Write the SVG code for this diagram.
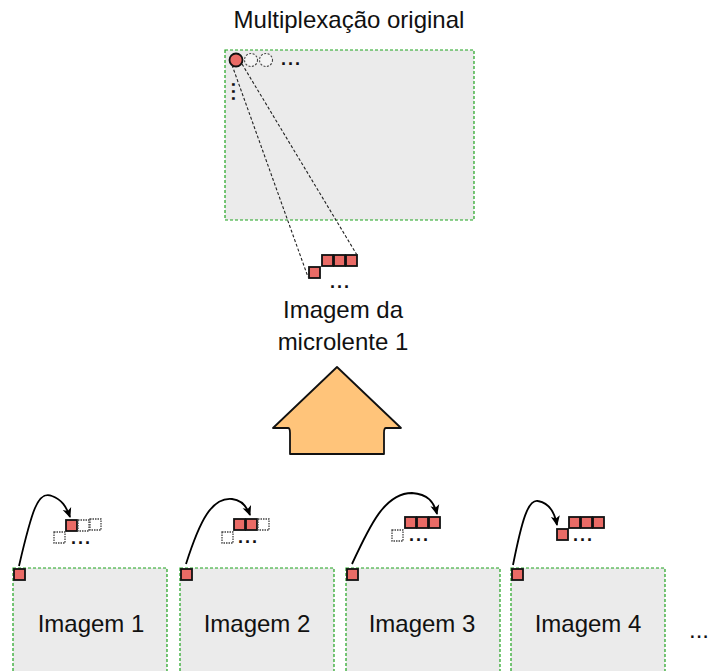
<svg xmlns="http://www.w3.org/2000/svg" width="711" height="671" viewBox="0 0 711 671">
<style>
.box{fill:#EBEBEB;stroke:#1FA31F;stroke-width:1.2;stroke-dasharray:3 2}
.red{fill:#EA6B66;stroke:#111;stroke-width:1.8}
.gray{fill:#fff;stroke:#444;stroke-width:1.3;stroke-dasharray:1.5 1}
.gc{fill:#f4f4f4;stroke:#444;stroke-width:1.1;stroke-dasharray:2 1.5}
.lbl{font-family:"Liberation Sans",Arial,sans-serif;font-size:24px;fill:#111;text-anchor:middle}
.dots{font-family:"Liberation Sans",Arial,sans-serif;font-size:18px;font-weight:bold;fill:#111;letter-spacing:2px}
.conn{fill:none;stroke:#000;stroke-width:1.8}
.dash{fill:none;stroke:#222;stroke-width:1.1;stroke-dasharray:3 2}
</style>
<defs>
<marker id="ah" markerWidth="12" markerHeight="12" refX="9" refY="6" orient="auto" markerUnits="userSpaceOnUse">
<path d="M0,1.5 L10,6 L0,10.5 L2.5,6 Z" fill="#000"/>
</marker>
</defs>

<g id="original">
<text class="lbl" x="349" y="28">Multiplexação original</text>
<rect class="box" x="225" y="50" width="249" height="170"/>
<circle class="red" cx="236" cy="60" r="6.5"/>
<circle class="gc" cx="251" cy="60" r="6.5"/>
<circle class="gc" cx="266" cy="60" r="6.5"/>
<text class="dots" x="281" y="65">...</text>
<text class="dots" x="0" y="0" transform="translate(232,82) rotate(90)">...</text>
</g>

<g id="microlente">
<rect class="red" x="309" y="267" width="11" height="11"/>
<rect class="red" x="322" y="255" width="11" height="11"/>
<rect class="red" x="334" y="255" width="11" height="11"/>
<rect class="red" x="346" y="255" width="11" height="11"/>
<text class="dots" x="330" y="288">...</text>
<text class="lbl" x="343" y="318">Imagem da</text>
<text class="lbl" x="343" y="350">microlente 1</text>
</g>

<g id="bigarrow">
<path d="M337,367 L401,428 L386,428 Q384,428 384,433 L384,454 L290,454 L290,433 Q290,428 288,428 L273,428 Z" fill="#FFC47A" stroke="#111" stroke-width="1.8" stroke-linejoin="round"/>
</g>

<g id="img1">
<rect class="box" x="13" y="568" width="154" height="110"/>
<rect class="red" x="14" y="569" width="11" height="11"/>
<text class="lbl" x="91" y="632">Imagem 1</text>
<rect class="red" x="66" y="520" width="11" height="11"/>
<rect class="gray" x="78" y="520" width="11" height="11"/>
<rect class="gray" x="90" y="519" width="11" height="11"/>
<rect class="gray" x="54" y="532" width="11" height="11"/>
<text class="dots" x="71" y="544">...</text>
</g>

<g id="img2">
<rect class="box" x="180" y="568" width="154" height="110"/>
<rect class="red" x="181" y="569" width="11" height="11"/>
<text class="lbl" x="257" y="632">Imagem 2</text>
<rect class="red" x="234" y="519" width="11" height="11"/>
<rect class="red" x="246" y="519" width="11" height="11"/>
<rect class="gray" x="258" y="519" width="11" height="11"/>
<rect class="gray" x="222" y="532" width="11" height="11"/>
<text class="dots" x="238" y="543">...</text>
</g>

<g id="img3">
<rect class="box" x="346" y="568" width="154" height="110"/>
<rect class="red" x="347" y="569" width="11" height="11"/>
<text class="lbl" x="422" y="632">Imagem 3</text>
<rect class="red" x="405" y="517" width="11" height="11"/>
<rect class="red" x="417" y="517" width="11" height="11"/>
<rect class="red" x="429" y="517" width="11" height="11"/>
<rect class="gray" x="392" y="530" width="11" height="11"/>
<text class="dots" x="409" y="541">...</text>
</g>

<g id="img4">
<rect class="box" x="511" y="568" width="154" height="110"/>
<rect class="red" x="512" y="569" width="11" height="11"/>
<text class="lbl" x="588" y="632">Imagem 4</text>
<rect class="red" x="569" y="517" width="11" height="11"/>
<rect class="red" x="581" y="517" width="11" height="11"/>
<rect class="red" x="593" y="517" width="11" height="11"/>
<rect class="red" x="557" y="529" width="11" height="11"/>
<text class="dots" x="573" y="541">...</text>
</g>

<g id="more">
<text class="lbl" x="689" y="638" style="text-anchor:start">...</text>
</g>

<g id="connectors">
<line class="dash" x1="232" y1="65" x2="308" y2="277"/>
<line class="dash" x1="242" y1="64" x2="357" y2="255"/>
<path class="conn" d="M19,566 C32,510 38,490 52,496 C62,500 66,506 70,517" marker-end="url(#ah)"/>
<path class="conn" d="M186,564 C200,520 212,497 232,499 C242,500 247,507 250,515" marker-end="url(#ah)"/>
<path class="conn" d="M352,564 C370,525 385,493 412,493 C428,494 434,502 437,514" marker-end="url(#ah)"/>
<path class="conn" d="M513,565 C522,520 528,499 538,501 C550,503 555,514 557,525" marker-end="url(#ah)"/>
</g>
</svg>
